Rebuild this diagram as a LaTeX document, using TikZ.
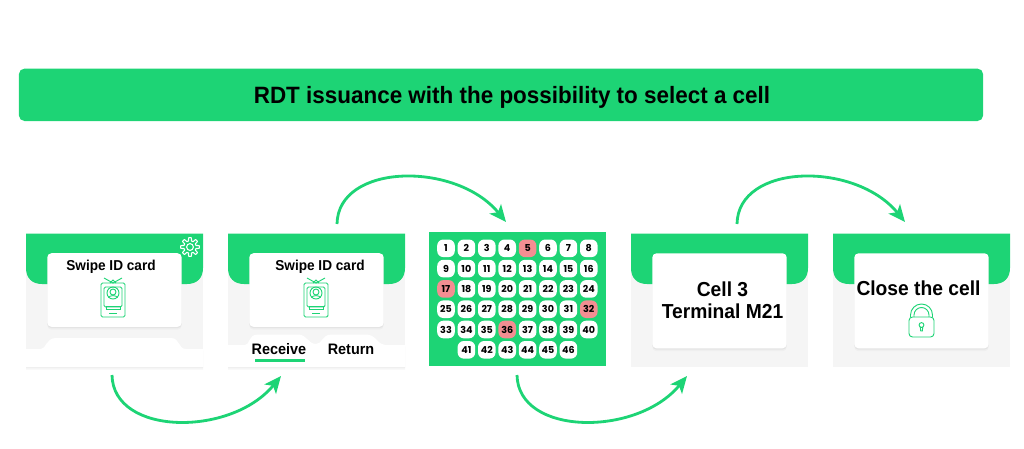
\documentclass[tikz,border=0pt]{standalone}
\usepackage{fontspec}
\setmainfont[FakeStretch=0.95]{Liberation Sans}
\newfontfamily\gridfont{Poppins}
\usepackage{xcolor}
\usetikzlibrary{arrows.meta}
\usetikzlibrary{shadows}
\definecolor{rdtgreen}{RGB}{29,212,117}
\definecolor{panelgray}{RGB}{245,245,245}
\definecolor{cellred}{RGB}{243,142,146}

\begin{document}
\begin{tikzpicture}[
    x=0.025cm, y=-0.025cm,
    softshadow/.style={drop shadow={opacity=0.05, shadow xshift=0pt, shadow yshift=-2pt, shadow scale=1},
        drop shadow={opacity=0.09, shadow xshift=0pt, shadow yshift=-1pt, shadow scale=1}},
    banner/.style={rectangle, fill=rdtgreen, rounded corners=4pt, minimum width=24.1cm, minimum height=1.31cm},
    headline/.style={inner sep=0pt, font=\fontsize{16.8}{20}\selectfont\bfseries},
    panel/.style={rectangle, fill=panelgray, minimum width=4.43cm, minimum height=3.33cm},
    card/.style={rectangle, fill=white, rounded corners=3pt, minimum width=3.36cm, softshadow},
    title/.style={font=\fontsize{10.2}{13}\selectfont\bfseries, inner sep=0pt},
    bigtitle/.style={font=\fontsize{14.4}{15.6}\selectfont\bfseries, inner sep=0pt, align=center},
    tabtext/.style={font=\fontsize{10.8}{13}\selectfont\bfseries, inner sep=0pt},
    cellbox/.style={rectangle, rounded corners=4.4pt, minimum size=0.44cm, inner sep=0pt, font=\gridfont\fontsize{6.8}{8}\selectfont\bfseries},
    flow/.style={-{Stealth[length=12pt, width=10.5pt, inset=3pt]}, rdtgreen, line width=2pt},
    icon/.style={rdtgreen, line width=0.65pt},
    idcard/.pic={
        \draw[icon, rounded corners=1pt] (-12,-17) rectangle (12,17);
        \draw[icon, rounded corners=1pt] (-9,-13) rectangle (9,7);
        \draw[icon] (-9,-22) -- (0,-17) -- (9,-22) (-3,-17) -- (0,-20) -- (3,-17);
        \draw[icon] (0,-7) circle (6);
        \draw[icon] (0,-8) circle (3);
        \draw[icon] (-4.5,-2.5) .. controls (-3,-5) and (3,-5) .. (4.5,-2.5);
        \draw[icon] (-7,6) rectangle (7,9);
        \draw[icon] (-4,13) -- (4,13);
    },
    padlock/.pic={
        \draw[icon, rounded corners=2.5pt] (-12.5,-7) rectangle (12.5,13);
        \draw[icon] (-11,-7) -- (-11,-9) arc[start angle=180, end angle=360, radius=11] -- (11,-7);
        \draw[icon] (-7.5,-7) -- (-7.5,-9) arc[start angle=180, end angle=360, radius=7.5] -- (7.5,-7);
        \draw[icon] (0,1) circle (2.4);
        \draw[icon] (-1.2,3) -- (-0.8,7) -- (0.8,7) -- (1.2,3);
    },
    gear/.pic={
        \draw[white, line width=0.75pt, line join=round] plot[domain=0:360, samples=129]
            ({(7.7+1.6*max(-1,min(1,3*cos(8*\x))))*cos(\x)}, {(7.7+1.6*max(-1,min(1,3*cos(8*\x))))*sin(\x)}) -- cycle;
        \draw[white, line width=0.75pt] (0,0) circle (3.4);
    }
]
    \useasboundingbox (0,0) rectangle (1024,448);

    % Header
    \node[banner] (head) at (501,94.8) {};
    \node[headline] (headtext) at (512,97) {RDT issuance with the possibility to select a cell};

    % Panels with green top
    \foreach \x/\n in {26/one, 228/two, 631/four, 833/five} {
        \node[panel] (\n) at (\x+88.5,300.2) {};
        \fill[rdtgreen] (\x,233.7) -- (\x,268) .. controls (\x,278) and (\x+6,284) .. (\x+16,284) -- (\x+161,284) .. controls (\x+171,284) and (\x+177,278) .. (\x+177,268) -- (\x+177,233.7) -- cycle;
    }

    % Tabs under the cards
    \fill[white, softshadow] (26,349) -- (41,349) .. controls (46,349) and (46,338) .. (56,338) -- (171,338) .. controls (180,338) and (178,349) .. (186,349) -- (203,349) -- (203,367) -- (26,367) -- cycle;
    \fill[white, softshadow] (228,345) -- (245,345) .. controls (250,345) and (248,334.5) .. (258,334.5) -- (298,334.5) .. controls (307,334.5) and (308,344) .. (316,344) .. controls (323,344) and (321,334.5) .. (332,334.5) -- (366,334.5) .. controls (376,334.5) and (378,345) .. (385,345) -- (405,345) -- (405,367) -- (228,367) -- cycle;

    % Cards
    \node[card, minimum height=1.84cm] (card1) at (114.5,290) {};
    \node[card, minimum height=1.84cm] (card2) at (316.5,290) {};
    \node[card, minimum height=2.375cm] (card4) at (719.5,300.8) {};
    \node[card, minimum height=2.375cm] (card5) at (921.5,300.8) {};

    % Labels
    \node[title] (swipe1) at (111,266.5) {Swipe ID card};
    \node[title] (swipe2) at (320,266.5) {Swipe ID card};
    \node[tabtext] (receive) at (279,349.5) {Receive};
    \node[tabtext] (return) at (351,349.5) {Return};
    \fill[rdtgreen] (254.5,358.6) rectangle (304.5,361.8);
    \node[bigtitle] (cell) at (722.5,300) {Cell 3\\Terminal M21};
    \node[bigtitle] (close) at (918.5,288.5) {Close the cell};

    % Icons
    \pic at (113,300) {idcard};
    \pic at (316,300) {idcard};
    \pic at (921.5,324) {padlock};
    \pic at (190,247) {gear};

    % Cell grid
    \node[rectangle, fill=rdtgreen, minimum width=4.425cm, minimum height=3.335cm] (grid) at (517.5,299) {};
    \foreach \n in {1,...,46} {
        \pgfmathtruncatemacro{\rw}{(\n-1)/8}
        \pgfmathtruncatemacro{\cl}{\n-1-8*\rw+(\n>40)}
        \def\col{white}
        \ifnum\n=5 \def\col{cellred}\fi
        \ifnum\n=17 \def\col{cellred}\fi
        \ifnum\n=32 \def\col{cellred}\fi
        \ifnum\n=36 \def\col{cellred}\fi
        \node[cellbox, fill=\col] (c\n) at ({446+20.4*\cl},{248.3+20.3*\rw}) {\n};
    }

    % Connections
    \coordinate (s1) at (112,375);
    \coordinate (e1) at (281,376);
    \coordinate (s2) at (337,224);
    \coordinate (e2) at (506,222);
    \coordinate (s3) at (517,375);
    \coordinate (e3) at (687,376);
    \coordinate (s4) at (737,224);
    \coordinate (e4) at (905,222);
    \draw[flow] (s1) .. controls +(1,61) and +(-50,61) .. (e1);
    \draw[flow] (s2) .. controls +(1,-61) and +(-50,-61) .. (e2);
    \draw[flow] (s3) .. controls +(1,61) and +(-50,61) .. (e3);
    \draw[flow] (s4) .. controls +(1,-61) and +(-50,-61) .. (e4);
\end{tikzpicture}
\end{document}
